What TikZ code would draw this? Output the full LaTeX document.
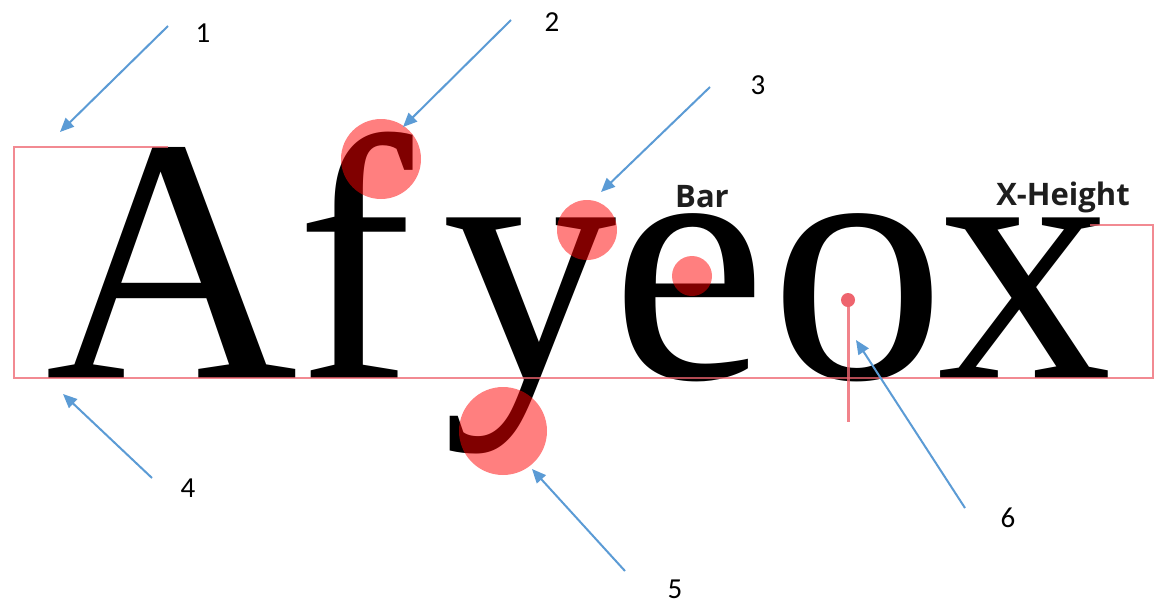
\documentclass[tikz,border=0pt]{standalone}
\usepackage{fontspec}
\setmainfont{Liberation Serif}
\newfontfamily\numfont{Carlito}
\newfontfamily\labfont{Open Sans}
\usetikzlibrary{arrows.meta}
\definecolor{arrowblue}{RGB}{91,155,213}
\definecolor{guidered}{RGB}{238,100,110}
\definecolor{hlred}{RGB}{255,0,0}
\definecolor{labgray}{RGB}{30,30,30}
\tikzset{
  glyph/.style={inner sep=0pt, outer sep=0pt, anchor=base west, font=\fontsize{350}{350}\selectfont},
  numlabel/.style={inner sep=0pt, font=\numfont\fontsize{29}{29}\selectfont},
  partlabel/.style={inner sep=0pt, anchor=base, text=labgray, font=\labfont\bfseries\fontsize{31}{31}\selectfont},
  pointer/.style={draw=arrowblue, line width=2pt, -{Triangle[length=14pt,width=12pt]}},
  guide/.style={draw=guidered, line width=2.5pt, opacity=0.75},
  hl/.style={fill=hlred, opacity=0.5},
}
\begin{document}
\begin{tikzpicture}[x=1pt,y=-1pt]
\useasboundingbox (0,0) rectangle (1154,606);
\fill[white] (0,0) rectangle (1154,606);
% glyphs
\node[glyph] (gA) at (45,378) {\smash{A}};
\node[glyph] (gf) at (296,378) {\smash{f}};
\node[glyph] (gy) at (442,378) {\smash{y}};
\node[glyph] (ge) at (611,378) {\smash{e}};
\node[glyph] (go) at (770,378) {\smash{o}};
\node[glyph] (gx) at (937,378) {\smash{x}};
% guide lines
\draw[guide] (168,147) -- (14,147) -- (14,378) -- (1153,378) -- (1153,225) -- (1090,225);
\draw[guidered, line width=3pt, opacity=0.8] (848,300) -- (848,422);
\fill[guidered] (848,300) circle[radius=7pt];
% highlight circles
\fill[hl] (381,159) circle[radius=40pt];
\fill[hl] (587,230) circle[radius=30pt];
\fill[hl] (503,431) circle[radius=44pt];
\fill[hl] (692,276) circle[radius=20pt];
% part labels
\node[partlabel] (bar) at (702,207) {Bar};
\node[partlabel] (xh) at (1063,205) {X-Height};
% numbers
\node[numlabel] (n1) at (203,33) {1};
\node[numlabel] (n2) at (552,22) {2};
\node[numlabel] (n3) at (758,85) {3};
\node[numlabel] (n4) at (188,488) {4};
\node[numlabel] (n5) at (675,589) {5};
\node[numlabel] (n6) at (1008,518) {6};
% arrow coordinates
\coordinate (s1) at (168,26);  \coordinate (t1) at (60,132);
\coordinate (s2) at (511,20);  \coordinate (t2) at (403,127);
\coordinate (s3) at (710,87);  \coordinate (t3) at (601,192);
\coordinate (s4) at (152,478); \coordinate (t4) at (63,394);
\coordinate (s5) at (625,571); \coordinate (t5) at (532,469);
\coordinate (s6) at (965,508); \coordinate (t6) at (856,340);
\draw[pointer] (s1) -- (t1);
\draw[pointer] (s2) -- (t2);
\draw[pointer] (s3) -- (t3);
\draw[pointer] (s4) -- (t4);
\draw[pointer] (s5) -- (t5);
\draw[pointer] (s6) -- (t6);
\end{tikzpicture}
\end{document}
